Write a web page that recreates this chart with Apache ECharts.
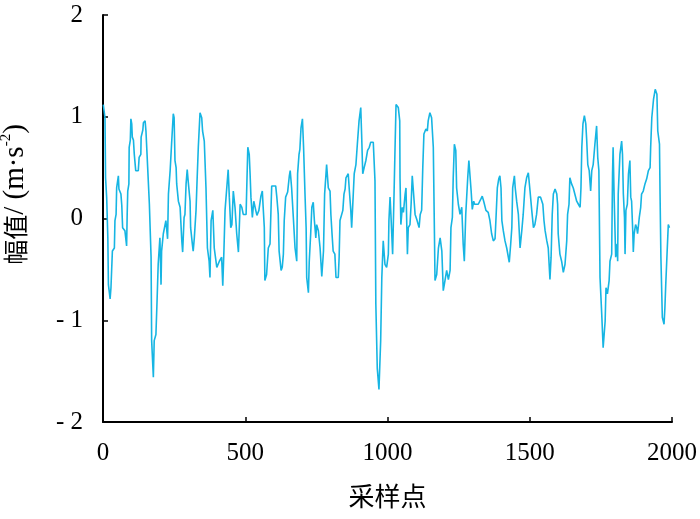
<!DOCTYPE html>
<html><head><meta charset="utf-8">
<script src="https://cdn.jsdelivr.net/npm/echarts@6/dist/echarts.min.js"></script>
<style>html,body{margin:0;padding:0;background:#fff}#c{width:700px;height:519px}</style>
</head><body><div id="c"></div>
<script>
const sampleIdx = [1,7,9,13,17,19,25,28,33,40,42,46,48,54,56,63,66,69,77,83,85,87,91,92,96,98,101,103,107,110,115,124,127,133,134,140,142,148,151,156,157,163,169,171,177,180,186,190,194,200,204,206,212,221,227,230,236,241,247,
250,253,257,259,265,271,277,280,285,288,292,296,300,306,308,314,317,321,327,331,335,341,347,350,356,362,367,373,376,380,386,391,400,409,417,421,425,429,435,440,444,449,453,458,464,470,476,482,488,493,503,505,509,514,
517,520,525,530,537,541,548,555,560,563,567,569,575,581,587,591,593,607,611,616,619,626,630,634,637,642,649,655,658,663,669,675,681,684,689,692,696,701,705,710,714,716,722,725,730,734,739,743,748,751,757,763,769,
775,779,786,792,798,801,805,809,815,819,827,830,833,839,843,847,851,854,862,866,871,874,878,883,889,894,900,906,909,913,918,924,930,936,941,950,956,959,964,970,976,980,985,991,997,1003,1005,1009,1012,1018,1023,1026,1030,1038,1043,
1044,1047,1052,1056,1062,1065,1070,1073,1079,1083,1087,1091,1097,1103,1111,1115,1120,1124,1128,1135,1140,1143,1149,1155,1161,1165,1167,1173,1179,1185,1191,1196,1202,1208,1214,1220,1223,1228,1231,1235,1240,1243,1249,1255,1261,1266,1270,1275,1282,1286,1294,1298,1303,
1306,1319,1328,1333,1339,1346,1354,1360,1366,1372,1378,1381,1386,1391,1395,1399,1402,1407,1413,1419,1428,1433,1437,1440,1446,1449,1454,1460,1466,1472,1477,1483,1489,1495,1501,1507,1513,1518,1524,1530,1538,1546,1550,1554,1560,1565,1571,1575,1579,1583,1589,1595,1598,1600,1606,1612,1618,1624,1630,1633,1638,1641,1647,1653,1659,1665,1671,1677,1680,1683,1687,1692,1697,1700,1704,1709,1714,1718,1723,1729,1735,1739,1743,1747,1753,1758,1765,1768,1773,1779,1782,1788,1791,1793,1797,1802,1807,1809,1811,1817,1823,1826,1829,1833,1835,1838,1843,1847,1852,1855,1858,1862,1864,1867,1872,1876,1879,1885,1890,1893,1899,1905,1911,1917,1923,1925,1929,1935,1941,1947,1950,1956,1958,1961,1966,1972,1975,1978,1983,1987,1991];
const amplitude = [1.12,0.99,0.40,0.20,-0.19,-0.65,-0.79,-0.68,-0.32,-0.29,-0.02,0.04,0.30,0.42,0.29,0.24,0.13,-0.09,-0.12,-0.27,0.04,0.27,0.34,0.70,0.77,0.98,0.93,0.80,0.77,0.63,0.47,0.47,0.60,0.63,0.80,0.87,0.94,0.96,0.86,0.86,0.50,0.14,-0.38,-1.20,-1.56,-1.20,-1.14,-0.81,-0.45,-0.19,-0.65,-0.32,-0.15,-0.02,-0.20,0.24,0.47,0.73,1.03,
0.99,0.57,0.50,0.34,0.17,0.11,-0.22,-0.33,0.01,0.04,0.34,0.48,0.35,0.17,-0.09,-0.25,-0.32,-0.19,0.08,0.40,0.70,1.04,0.99,0.86,0.76,0.30,-0.29,-0.42,-0.58,-0.02,0.08,-0.29,-0.48,-0.42,-0.38,-0.66,-0.32,0.08,0.30,0.48,0.21,-0.09,-0.06,0.27,0.11,-0.15,-0.33,0.14,0.11,0.04,0.04,0.27,0.70,0.63,
0.44,0.21,0.01,0.17,0.08,0.03,0.08,0.22,0.27,0.11,-0.09,-0.61,-0.55,-0.29,-0.25,0.14,0.32,0.32,0.21,0.04,-0.32,-0.51,-0.48,-0.35,-0.02,0.21,0.26,0.42,0.47,0.30,0.01,-0.29,-0.42,0.44,0.63,0.68,0.89,0.98,0.70,0.24,-0.09,-0.58,-0.73,-0.42,-0.15,0.11,0.16,-0.02,-0.19,-0.06,-0.12,-0.29,-0.57,
-0.32,0.24,0.53,0.30,0.27,0.04,-0.15,-0.32,-0.35,-0.58,-0.58,-0.38,-0.02,-0.02,0.08,0.24,0.29,0.40,0.44,0.27,0.08,-0.09,0.14,0.44,0.53,0.73,0.96,1.09,0.83,0.44,0.50,0.57,0.67,0.70,0.75,0.75,0.37,-0.84,-1.47,-1.68,-1.20,-0.58,-0.22,-0.45,-0.48,-0.35,-0.02,0.21,0.04,-0.35,0.24,0.63,1.12,1.09,0.96,
0.40,-0.06,0.11,0.06,0.24,0.30,-0.35,-0.09,-0.06,0.14,0.42,0.27,0.04,-0.01,-0.09,0.04,0.08,0.50,0.83,0.88,0.86,0.96,1.04,0.99,0.70,-0.15,-0.61,-0.55,-0.29,-0.19,-0.32,-0.71,-0.61,-0.51,-0.60,-0.51,-0.09,0.01,0.40,0.73,0.67,0.30,0.14,0.04,0.11,-0.25,-0.42,0.04,0.40,0.57,0.27,0.09,0.17,
0.14,0.14,0.19,0.22,0.16,0.08,0.06,-0.02,-0.15,-0.22,-0.20,-0.02,0.30,0.39,0.42,0.30,-0.02,-0.12,-0.22,-0.29,-0.43,-0.25,-0.09,0.30,0.42,0.30,0.17,0.04,-0.29,-0.12,0.04,0.30,0.40,0.45,0.27,0.08,-0.09,-0.06,0.04,0.21,0.21,0.14,-0.02,-0.12,-0.22,-0.29,-0.60,-0.38,0.04,0.24,0.29,0.24,0.14,-0.15,-0.35,-0.42,-0.53,-0.45,-0.22,0.04,0.14,0.40,0.34,0.30,0.30,0.17,0.14,0.11,0.30,0.70,0.93,1.01,0.93,0.78,0.53,0.47,0.27,0.47,0.53,0.73,0.91,0.60,0.47,-0.58,-0.94,-1.27,-1.01,-0.68,-0.74,-0.61,-0.42,-0.35,0.44,0.70,0.17,-0.38,-0.25,-0.42,0.24,0.63,0.76,0.63,0.24,0.01,-0.35,0.08,0.14,0.44,0.57,0.21,0.17,-0.12,-0.33,-0.15,-0.06,-0.09,-0.15,0.01,0.11,0.24,0.27,0.34,0.39,0.47,0.50,0.70,0.99,1.17,1.27,1.22,0.86,0.73,0.24,-0.38,-0.97,-1.04,-0.88,-0.65,-0.32,-0.06,-0.09];
const xTicks = [0, 500, 1000, 1500, 2000];
const yTicks = [-2, -1, 0, 1, 2];

const points = sampleIdx.map((s, i) => [s, amplitude[i]]);
const chart = echarts.init(document.getElementById('c'), null, {renderer: 'canvas'});
const SERIF = 'Liberation Serif';
chart.setOption({
  animation: false,
  grid: {left: 103, right: 28, top: 15, bottom: 97, containLabel: false, outerBoundsMode: 'none'},
  xAxis: {
    type: 'value', min: xTicks[0], max: xTicks[xTicks.length - 1], interval: 500,
    name: '采样点', nameLocation: 'middle', nameGap: 61,
    nameTextStyle: {fontFamily: 'Noto Sans CJK SC', fontSize: 26, color: '#000'},
    axisLine: {show: true, onZero: false, lineStyle: {color: '#000', width: 2}},
    axisTick: {show: true, inside: true, length: 5, lineStyle: {color: '#000', width: 1.5}},
    axisLabel: {margin: 19, fontFamily: SERIF, fontSize: 25, color: '#000', formatter: v => String(v)},
    splitLine: {show: false}
  },
  yAxis: {
    type: 'value', min: yTicks[0], max: yTicks[yTicks.length - 1], interval: 1,
    name: '{c|幅值}{a|/ (m·s}{s|-2}{a|)}', nameLocation: 'middle', nameGap: 72, nameRotate: 90,
    nameTextStyle: {
      padding: [0, 0, 0, 48],
      rich: {
        c: {fontFamily: 'Noto Sans CJK SC', fontSize: 25, color: '#000', lineHeight: 32},
        a: {fontFamily: SERIF, fontSize: 29, color: '#000', lineHeight: 32},
        s: {fontFamily: SERIF, fontSize: 15, color: '#000', verticalAlign: 'top', lineHeight: 32, padding: [0, 0, 14, 0]}
      }
    },
    axisLine: {show: true, onZero: false, lineStyle: {color: '#000', width: 2}},
    axisTick: {show: true, inside: true, length: 5, lineStyle: {color: '#000', width: 1.5}},
    axisLabel: {margin: 20, fontFamily: SERIF, fontSize: 25, color: '#000', formatter: v => v < 0 ? '- ' + Math.abs(v) : String(v)},
    splitLine: {show: false}
  },
  series: [{
    type: 'line', data: points, showSymbol: false, symbol: 'none',
    lineStyle: {color: '#16b5e3', width: 1.6}, clip: true
  }]
});
</script></body></html>
